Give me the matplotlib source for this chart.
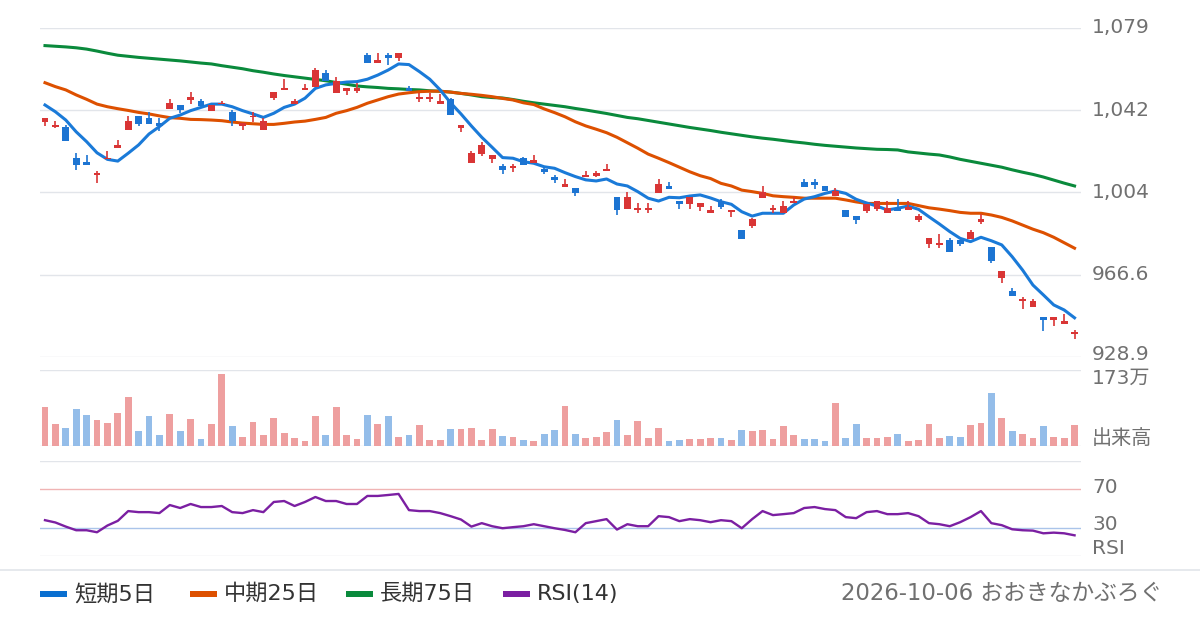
import numpy as np
import matplotlib.pyplot as plt
from matplotlib.lines import Line2D
from matplotlib.patches import Rectangle

# Latin glyphs from DejaVu, Japanese falls back to Noto CJK
plt.rcParams["font.family"] = ["DejaVu Sans", "Noto Sans CJK JP"]

# daily candles (yen), oldest first
opens = [1036.6, 1034.3, 1034.2, 1020.0, 1018.2, 1012.4, 1019.4, 1024.7, 1033.0, 1039.1,
         1038.3, 1035.9, 1042.6, 1044.3, 1046.7, 1046.1, 1041.7, 1044.7, 1041.1, 1034.8,
         1038.6, 1033.0, 1047.6, 1051.3, 1044.7, 1051.3, 1052.7, 1059.1, 1049.9, 1050.9,
         1050.9, 1067.2, 1063.7, 1067.2, 1066.0, 1052.1, 1047.2, 1047.0, 1044.9, 1046.9,
         1033.9, 1017.9, 1022.0, 1019.7, 1016.4, 1015.6, 1019.9, 1017.9, 1015.1, 1011.5,
         1006.9, 1006.3, 1011.2, 1011.8, 1014.1, 1002.2, 996.8, 996.1, 996.3, 1004.1,
         1007.2, 1000.3, 999.1, 997.7, 995.0, 1000.3, 995.3, 987.0, 989.0, 1001.8,
         996.3, 995.0, 999.5, 1009.0, 1009.0, 1007.2, 1002.7, 996.2, 993.4, 995.9,
         996.8, 995.0, 997.2, 996.3, 991.6, 980.6, 980.3, 982.4, 982.4, 982.9,
         990.7, 979.1, 965.2, 958.9, 954.6, 951.8, 947.2, 945.9, 944.1, 939.5]
highs = [1038.2, 1036.9, 1035.1, 1022.4, 1021.4, 1014.2, 1023.2, 1028.3, 1039.2, 1039.1,
         1041.1, 1038.3, 1047.0, 1044.3, 1050.2, 1047.0, 1044.2, 1046.1, 1042.0, 1036.2,
         1041.2, 1038.2, 1050.2, 1056.2, 1047.0, 1053.9, 1061.4, 1060.3, 1057.1, 1052.1,
         1054.2, 1068.0, 1068.2, 1068.0, 1068.1, 1053.0, 1049.9, 1049.9, 1049.3, 1047.3,
         1035.1, 1023.2, 1027.2, 1021.4, 1017.1, 1017.3, 1020.3, 1021.4, 1016.0, 1012.4,
         1010.4, 1006.3, 1014.1, 1014.1, 1017.3, 1002.2, 1004.3, 999.4, 999.4, 1010.4,
         1009.0, 1000.3, 1002.2, 999.4, 998.0, 1001.2, 996.3, 987.0, 992.5, 1007.2,
         998.5, 1000.3, 1002.2, 1010.4, 1010.4, 1007.2, 1006.3, 996.2, 993.4, 998.8,
         1000.2, 1000.2, 1001.2, 1000.2, 994.4, 983.2, 985.2, 983.2, 982.4, 987.0,
         994.4, 979.1, 968.2, 960.5, 956.3, 955.4, 947.2, 947.2, 948.6, 941.2]
lows = [1034.7, 1033.9, 1027.9, 1014.7, 1016.9, 1008.7, 1019.4, 1024.7, 1033.0, 1034.7,
        1035.7, 1032.4, 1042.6, 1040.8, 1044.8, 1044.0, 1041.7, 1044.7, 1034.8, 1033.0,
        1036.6, 1033.0, 1046.7, 1051.3, 1044.7, 1051.3, 1052.7, 1055.4, 1049.9, 1049.0,
        1049.9, 1063.7, 1063.7, 1062.8, 1064.6, 1050.6, 1045.8, 1045.8, 1044.9, 1039.9,
        1032.1, 1017.9, 1021.1, 1017.9, 1012.8, 1013.8, 1016.9, 1017.9, 1012.8, 1008.7,
        1006.9, 1002.7, 1011.2, 1011.2, 1014.1, 994.0, 996.8, 995.0, 995.0, 1004.1,
        1005.9, 996.8, 996.8, 995.9, 995.0, 996.8, 993.0, 983.0, 988.1, 1001.8,
        995.0, 995.0, 999.5, 1006.9, 1005.9, 1005.0, 1002.7, 993.1, 989.8, 995.0,
        995.9, 995.0, 995.9, 996.3, 990.7, 978.8, 978.8, 977.1, 979.7, 982.9,
        989.8, 972.1, 962.9, 956.9, 951.0, 951.8, 940.9, 943.2, 944.1, 937.2]
closes = [1038.2, 1035.1, 1027.9, 1016.9, 1016.9, 1013.1, 1020.2, 1026.0, 1036.9, 1035.7,
          1035.7, 1034.8, 1045.2, 1041.9, 1048.0, 1044.0, 1044.2, 1045.3, 1036.9, 1036.2,
          1039.2, 1036.9, 1050.2, 1052.1, 1046.1, 1052.2, 1060.3, 1055.4, 1055.3, 1052.1,
          1052.1, 1063.7, 1064.9, 1066.0, 1068.1, 1050.6, 1048.1, 1048.0, 1046.3, 1039.9,
          1035.1, 1022.2, 1025.8, 1021.4, 1014.7, 1016.4, 1016.9, 1019.1, 1013.7, 1010.0,
          1008.1, 1004.1, 1012.4, 1013.1, 1015.0, 996.1, 1002.2, 997.2, 997.2, 1008.1,
          1005.9, 999.1, 1002.2, 999.4, 996.3, 997.7, 996.3, 983.0, 992.1, 1004.4,
          997.1, 998.0, 1000.3, 1006.9, 1007.8, 1005.0, 1004.8, 993.1, 991.6, 998.8,
          1000.2, 997.0, 995.9, 997.7, 993.4, 983.2, 981.1, 977.1, 980.6, 986.1,
          992.0, 973.0, 968.2, 956.9, 955.5, 954.5, 945.9, 947.2, 945.3, 940.3]

# volume in 万株
volumes = [89.2, 50.3, 41.2, 84.6, 70.9, 59.4, 52.6, 75.4, 112.0, 34.3,
           68.6, 25.1, 73.2, 34.3, 61.7, 16.0, 50.3, 164.6, 45.7, 20.6,
           54.9, 25.1, 64.0, 29.7, 18.3, 11.4, 68.6, 25.1, 89.2, 25.1,
           16.0, 70.9, 50.3, 68.6, 20.6, 25.1, 48.0, 13.7, 13.7, 38.9,
           38.9, 41.2, 13.7, 38.9, 22.9, 20.6, 13.7, 11.4, 27.4, 36.6,
           91.5, 27.4, 18.3, 20.6, 32.0, 59.4, 25.1, 57.2, 18.3, 41.2,
           11.4, 13.7, 16.0, 16.0, 18.3, 18.3, 13.7, 36.6, 34.3, 36.6,
           16.0, 45.7, 25.1, 16.0, 16.0, 11.4, 98.3, 18.3, 50.3, 18.3,
           18.3, 20.6, 27.4, 11.4, 13.7, 50.3, 18.3, 22.9, 20.6, 48.0,
           52.6, 121.2, 64.0, 34.3, 27.4, 18.3, 45.7, 20.6, 18.3, 48.0]

ma5 = [1044.3, 1041.2, 1037.4, 1032.0, 1027.5, 1022.4, 1019.4, 1018.6, 1022.2, 1026.0,
       1031.0, 1034.4, 1038.2, 1039.7, 1041.7, 1043.2, 1044.7, 1044.7, 1043.5, 1041.7,
       1040.2, 1038.6, 1040.5, 1043.2, 1044.7, 1047.4, 1051.9, 1053.5, 1054.2, 1054.8,
       1055.0, 1056.1, 1058.0, 1060.3, 1063.1, 1062.8, 1059.6, 1056.1, 1051.2, 1045.3,
       1040.2, 1034.7, 1029.5, 1024.9, 1020.2, 1019.9, 1018.3, 1017.6, 1016.0, 1015.3,
       1013.3, 1011.5, 1010.0, 1009.5, 1010.4, 1008.1, 1007.2, 1004.6, 1001.6, 1000.3,
       1002.0, 1001.8, 1002.6, 1003.1, 1001.7, 1000.0, 998.8, 995.4, 993.4, 994.7,
       994.7, 994.7, 998.5, 1001.2, 1002.3, 1003.8, 1004.9, 1003.8, 1001.1, 999.4,
       998.0, 996.2, 997.0, 998.0, 996.5, 993.1, 989.8, 986.3, 983.2, 981.7,
       983.7, 982.1, 980.2, 974.8, 968.7, 961.8, 957.3, 952.7, 950.4, 946.8]
ma25 = [1054.5, 1052.7, 1051.2, 1048.9, 1046.9, 1044.7, 1043.5, 1042.6, 1041.8, 1040.9,
        1040.2, 1039.3, 1038.5, 1038.2, 1037.7, 1037.6, 1037.4, 1037.1, 1036.5, 1036.0,
        1035.7, 1035.4, 1035.4, 1035.9, 1036.5, 1036.9, 1037.7, 1038.6, 1040.5, 1041.7,
        1043.2, 1045.1, 1046.6, 1048.1, 1049.3, 1049.9, 1050.4, 1050.6, 1050.6, 1050.2,
        1049.6, 1049.2, 1048.7, 1048.1, 1047.3, 1046.6, 1045.3, 1044.5, 1042.5, 1040.8,
        1038.9, 1036.6, 1034.7, 1033.2, 1031.6, 1029.5, 1027.0, 1024.5, 1021.8, 1019.9,
        1017.9, 1015.8, 1013.7, 1011.9, 1010.6, 1008.4, 1007.2, 1005.3, 1004.6, 1003.8,
        1002.7, 1002.3, 1002.0, 1001.6, 1001.6, 1001.6, 1001.6, 1000.8, 999.9, 999.2,
        999.2, 999.2, 999.2, 999.2, 998.2, 997.2, 996.6, 995.9, 995.1, 994.7,
        994.7, 993.9, 992.8, 991.2, 989.3, 987.4, 985.8, 983.7, 981.2, 978.7]
ma75 = [1071.5, 1071.2, 1070.9, 1070.5, 1069.9, 1069.0, 1068.0, 1067.1, 1066.6, 1066.1,
        1065.7, 1065.3, 1064.9, 1064.5, 1064.0, 1063.5, 1063.1, 1062.3, 1061.6, 1060.9,
        1060.0, 1059.3, 1058.5, 1057.8, 1057.2, 1056.6, 1056.0, 1055.4, 1054.6, 1053.8,
        1053.0, 1052.6, 1052.3, 1051.9, 1051.7, 1051.4, 1051.2, 1050.8, 1050.6, 1050.2,
        1049.6, 1048.9, 1048.1, 1047.7, 1047.5, 1046.8, 1046.0, 1045.3, 1044.7, 1044.1,
        1043.5, 1042.7, 1042.0, 1041.2, 1040.4, 1039.5, 1038.6, 1038.0, 1037.2, 1036.4,
        1035.6, 1034.8, 1034.0, 1033.3, 1032.6, 1031.8, 1031.1, 1030.4, 1029.7, 1029.1,
        1028.6, 1028.0, 1027.4, 1026.9, 1026.3, 1025.8, 1025.4, 1025.0, 1024.6, 1024.3,
        1024.0, 1023.9, 1023.7, 1022.8, 1022.3, 1021.8, 1021.4, 1020.5, 1019.4, 1018.5,
        1017.6, 1016.7, 1015.8, 1014.6, 1013.5, 1012.5, 1011.3, 1009.9, 1008.5, 1007.2]
rsi14 = [37.7, 35.3, 31.0, 27.2, 27.2, 25.1, 32.1, 37.0, 47.2, 46.1,
         46.1, 45.1, 53.5, 50.4, 54.6, 51.4, 51.4, 52.5, 46.1, 45.1,
         48.2, 46.1, 56.7, 57.7, 52.5, 56.7, 61.9, 57.7, 57.7, 54.6,
         54.6, 63.0, 63.0, 64.0, 65.1, 48.2, 47.2, 47.2, 45.1, 41.9,
         38.4, 31.0, 34.6, 31.4, 29.3, 30.4, 31.4, 33.5, 31.4, 29.3,
         27.5, 25.1, 34.6, 36.7, 38.8, 27.9, 33.5, 31.4, 31.4, 41.9,
         40.9, 36.7, 38.8, 37.7, 35.6, 37.7, 36.7, 29.3, 38.8, 47.2,
         43.0, 44.0, 45.1, 50.4, 51.4, 49.3, 48.2, 40.9, 39.8, 46.1,
         47.2, 44.0, 44.0, 45.1, 41.9, 34.6, 33.5, 31.4, 35.6, 40.9,
         47.2, 34.6, 32.5, 28.2, 27.2, 26.8, 24.0, 24.7, 24.0, 21.9]

price_ticks = [928.9, 966.6, 1004.3, 1042.0, 1079.7]
price_labels = ["928.9", "966.6", "1,004", "1,042", "1,079"]
vol_top = 173
legend_items = [("短期5日", "#0a6fd0"), ("中期25日", "#dd5000"),
                ("長期75日", "#0a8a3c"), ("RSI(14)", "#7b1fa2")]
footer = "2026-10-06 おおきなかぶろぐ"

UP, DOWN = "#d93535", "#1c74d2"
VUP, VDOWN = "#ee9f9f", "#94bde9"
GRID = "#e2e5ea"
LABEL = "#707070"

W, H = 1200, 630


def box(left, top, right, bottom):
    # pixel box -> figure fraction rect
    return [left / W, 1 - bottom / H, (right - left) / W, (bottom - top) / H]


fig = plt.figure(figsize=(W / 100, H / 100), dpi=100)
ax_p = fig.add_axes(box(40, 27.7, 1081, 356.9))
ax_v = fig.add_axes(box(40, 370.3, 1081, 446))
ax_r = fig.add_axes(box(40, 460.5, 1081, 556.3))

x = np.arange(len(closes))
o, h, l, c = map(np.array, (opens, highs, lows, closes))
up = c >= o
ccol = np.where(up, UP, DOWN)
vcol = np.where(up, VUP, VDOWN)

for ax in (ax_p, ax_v, ax_r):
    ax.set_xlim(-0.48, 99.62)
    ax.axis("off")

# price panel
for t in price_ticks:
    ax_p.axhline(t, color=GRID, lw=1.0, zorder=0)
ax_p.plot(x, ma75, color=legend_items[2][1], lw=2.2, zorder=2)
ax_p.plot(x, ma25, color=legend_items[1][1], lw=2.2, zorder=2)
ax_p.plot(x, ma5, color="#1a7ad8", lw=2.2, zorder=2)
ax_p.vlines(x, l, h, colors=ccol, lw=1.2, zorder=3)
body = np.maximum(np.abs(c - o), 0.6)
ax_p.bar(x, body, bottom=np.minimum(o, c), width=0.66, color=ccol, lw=0, zorder=3)
ax_p.set_ylim(price_ticks[0], price_ticks[-1])

# volume panel
ax_v.bar(x, volumes, width=0.66, color=vcol, lw=0, zorder=2)
ax_v.axhline(0, color=GRID, lw=1.0, zorder=1)
ax_v.axhline(vol_top, color=GRID, lw=1.0, zorder=1)
ax_v.set_ylim(0, vol_top)

# RSI panel
ax_r.axhline(100, color=GRID, lw=1.0)
ax_r.axhline(0, color=GRID, lw=1.0)
ax_r.axhline(70, color="#f0b4b4", lw=1.0)
ax_r.axhline(30, color="#aac4ea", lw=1.0)
ax_r.plot(x, rsi14, color=legend_items[3][1], lw=1.7)
ax_r.set_ylim(0, 100)

# right-hand labels
def rlabel(y_px, s):
    fig.text(1092 / W, 1 - y_px / H, s, ha="left", va="center", fontsize=14.5,
             color=LABEL)

for ypx, s in zip([355, 274.6, 192.3, 110, 27.7], price_labels):
    rlabel(ypx, s)
rlabel(378.5, f"{vol_top}万")
rlabel(439, "出来高")
rlabel(487.5, "70")
rlabel(525, "30")
rlabel(548.5, "RSI")

# footer
fig.add_artist(Line2D([0, 1], [1 - 570 / H] * 2, transform=fig.transFigure, color=GRID, lw=1.2))
leg_x = [40, 190, 346, 503]
for (name, col), lx in zip(legend_items, leg_x):
    fig.add_artist(Rectangle((lx / W, 1 - 597 / H), 27 / W, 6 / H,
                             transform=fig.transFigure, color=col, lw=0))
    fig.text((lx + 34) / W, 1 - 594 / H, name, ha="left", va="center",
             fontsize=16, color="#333333")
fig.text(1162 / W, 1 - 594 / H, footer, ha="right", va="center", fontsize=16.4,
         color=LABEL)

fig.savefig("out.png", dpi=100)
